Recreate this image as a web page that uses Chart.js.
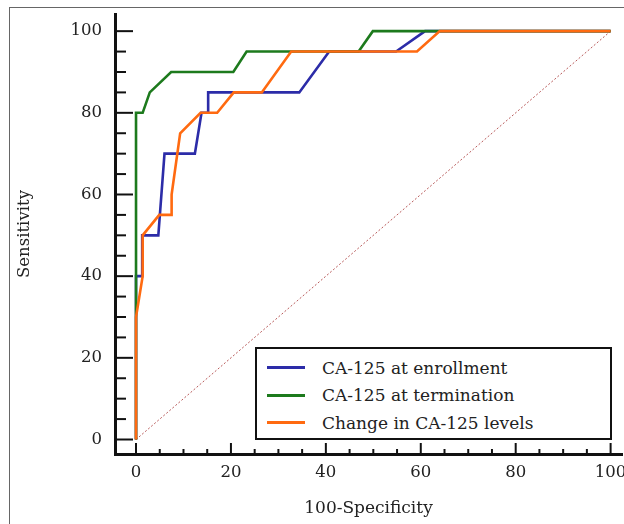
<!DOCTYPE html>
<html lang="en">
<head>
  <meta charset="UTF-8">
  <title>Curvas ROC CA-125</title>
  <script src="https://cdn.jsdelivr.net/npm/chart.js"></script>
  <style>
    body { margin: 0; background: #fff; }
    #wrap { position: relative; width: 624px; height: 524px; overflow: hidden; }
    #marco { position: absolute; left: 9px; top: 7px; width: 700px; height: 600px;
      border-left: 1px solid #666; border-top: 1px solid #666; }
    #grafico { position: absolute; left: 0; top: 0; }
    #leyenda { position: absolute; left: 255px; top: 347px; width: 357px; height: 93px;
      box-sizing: border-box; border: 2px solid #111; background: #fff; padding-top: 5px;
      font-family: 'DejaVu Serif', serif; font-size: 17px; color: #222; }
    .fila { height: 27.5px; display: flex; align-items: center; }
    .muestra { width: 38px; height: 3px; margin-left: 10px; margin-right: 17px; }
  </style>
</head>
<body>
<div id="wrap">
  <div id="marco"></div>
  <canvas id="grafico" width="624" height="524"></canvas>
  <div id="leyenda"></div>
</div>
<script>
  // curvas ROC (100-especificidad, sensibilidad)
  const enrolX = [0, 0, 1.3, 1.3, 4.7, 6.0, 12.4, 13.8, 15.2, 15.2, 34.4, 40.7, 54.8, 60.9, 100];
  const enrolY = [0, 40, 40, 50, 50, 70, 70, 80, 80, 85, 85, 95, 95, 100, 100];
  const termX = [0, 0, 1.4, 2.9, 7.4, 20.5, 23.3, 46.9, 49.9, 100];
  const termY = [0, 80, 80, 85, 90, 90, 95, 95, 100, 100];
  const cambioX = [0, 0, 1.4, 1.4, 4.9, 7.5, 7.5, 9.3, 13.6, 17.1, 20.6, 26.5, 32.7, 59.2, 64.0, 100];
  const cambioY = [0, 30, 40, 50, 55, 55, 60, 75, 80, 80, 85, 85, 95, 95, 100, 100];
  const diagX = [0, 100];
  const diagY = [0, 100];

  const nombres = ['CA-125 at enrollment', 'CA-125 at termination', 'Change in CA-125 levels'];
  const colores = ['#2c2ca8', '#1d7a1d', '#ff6a10'];

  const xTicks = [0, 20, 40, 60, 80, 100];
  const yTicks = [0, 20, 40, 60, 80, 100];
  const pasoMenor = 5;

  const puntos = (xs, ys) => xs.map((v, i) => ({x: v, y: ys[i]}));
  const fuente = {family: "'DejaVu Serif', serif", size: 16.5};

  // sin margen extra por las etiquetas
  const sinMargen = s => { s.paddingTop = 0; s.paddingBottom = 0; s.paddingLeft = 0; s.paddingRight = 0; };

  // marcas de los ejes hacia dentro
  const marcas = {
    id: 'marcas',
    afterDraw(chart) {
      const {ctx, scales: {x, y}, chartArea: a} = chart;
      ctx.save();
      ctx.strokeStyle = '#111';
      ctx.lineWidth = 2;
      for (let v = 0; v <= 100; v += pasoMenor) {
        const px = x.getPixelForValue(v);
        const lx = xTicks.includes(v) ? 11 : 5;
        ctx.beginPath(); ctx.moveTo(px, a.bottom); ctx.lineTo(px, a.bottom - lx); ctx.stroke();
        const py = y.getPixelForValue(v);
        const ly = yTicks.includes(v) ? 18 : 11;
        ctx.beginPath(); ctx.moveTo(a.left, py); ctx.lineTo(a.left + ly, py); ctx.stroke();
      }
      ctx.restore();
    }
  };

  const ctx = document.getElementById('grafico').getContext('2d');
  const chart = new Chart(ctx, {
    type: 'scatter',
    data: {
      datasets: [
        {label: nombres[0], data: puntos(enrolX, enrolY), borderColor: colores[0], order: 2},
        {label: nombres[1], data: puntos(termX, termY), borderColor: colores[1], order: 1},
        {label: nombres[2], data: puntos(cambioX, cambioY), borderColor: colores[2], order: 0},
        {label: 'ref', data: puntos(diagX, diagY), borderColor: '#b85a5a', borderWidth: 1,
          borderDash: [2, 2], order: 3}
      ]
    },
    options: {
      responsive: false,
      animation: false,
      showLine: true,
      datasets: {scatter: {showLine: true, pointRadius: 0, borderWidth: 2.6, tension: 0}},
      layout: {padding: {top: 14, right: 2}},
      plugins: {legend: {display: false}, tooltip: {enabled: false}},
      scales: {
        x: {
          type: 'linear', min: -4.43, max: 102.4,
          afterBuildTicks: s => { s.ticks = xTicks.map(v => ({value: v})); },
          afterFit: s => { s.height = 70; sinMargen(s); },
          grid: {display: false, drawTicks: false},
          border: {display: true, color: '#111', width: 3},
          ticks: {padding: 9, color: '#222', font: fuente, maxRotation: 0},
          title: {display: true, text: '100-Specificity', color: '#222', font: {family: "'DejaVu Serif', serif", size: 17}, padding: {bottom: 5}}
        },
        y: {
          type: 'linear', min: -3.55, max: 104.2,
          afterBuildTicks: s => { s.ticks = yTicks.map(v => ({value: v})); },
          afterFit: s => { s.width = 115; sinMargen(s); },
          grid: {display: false, drawTicks: false},
          border: {display: true, color: '#111', width: 3},
          ticks: {padding: 13, color: '#222', font: fuente},
          title: {display: true, text: 'Sensitivity', color: '#222', font: fuente, padding: {top: 15}}
        }
      }
    },
    plugins: [marcas]
  });

  // leyenda con recuadro
  const leyenda = document.getElementById('leyenda');
  nombres.forEach((n, i) => {
    const fila = document.createElement('div');
    fila.className = 'fila';
    fila.innerHTML = `<span class="muestra" style="background:${colores[i]}"></span><span>${n}</span>`;
    leyenda.appendChild(fila);
  });
</script>
</body>
</html>
